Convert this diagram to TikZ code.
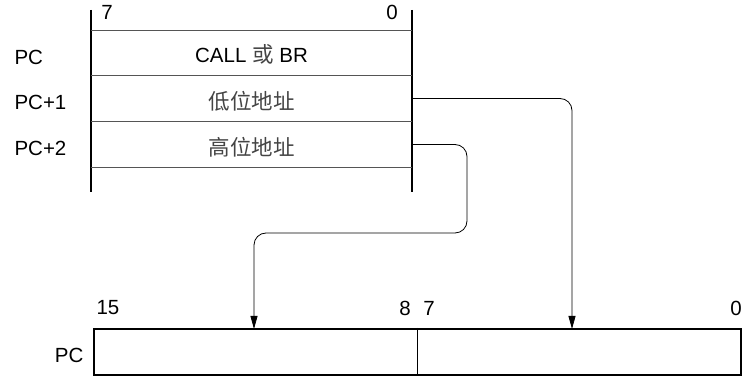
\documentclass[tikz,border=0pt]{standalone}
\usepackage{fontspec}
\setmainfont{Liberation Sans}
\newfontfamily\cjk{Noto Sans CJK SC}
\usepackage{xcolor}
\usetikzlibrary{arrows.meta}
\definecolor{rulecolor}{HTML}{555555}
\definecolor{cjkcolor}{HTML}{444444}

\begin{document}
\begin{tikzpicture}[font = \fontsize{20.5}{24}\selectfont]

        \useasboundingbox (0pt, 0pt) rectangle (742pt, -379pt);

        % Memory bytes
        \node [minimum width = 321pt, minimum height = 45pt, inner sep = 0pt, text height = 19pt, text depth = 0pt] (m0) at (251.5pt, -53.5pt) {CALL {\cjk\fontsize{21.5}{24}\selectfont\color{cjkcolor}或} BR};
        \node [minimum width = 321pt, minimum height = 46pt, inner sep = 0pt, text height = 23pt, text depth = 0pt, font = \cjk\fontsize{21.5}{24}\selectfont] (m1) at (251.5pt, -98.5pt) {\color{cjkcolor}低位地址};
        \node [minimum width = 321pt, minimum height = 46pt, inner sep = 0pt, text height = 23pt, text depth = 0pt, font = \cjk\fontsize{21.5}{24}\selectfont] (m2) at (251.5pt, -144.5pt) {\color{cjkcolor}高位地址};

        \draw [line width = 2.5pt] (m0.north west) ++(0pt, 21pt) -- ++(0pt, -182pt);
        \draw [line width = 2.5pt] (m0.north east) ++(0pt, 21pt) -- ++(0pt, -182pt);
        \draw [line width = 0.9pt, rulecolor] (m0.north west) -- (m0.north east);
        \draw [line width = 0.9pt, rulecolor] (m1.north west) -- (m1.north east);
        \draw [line width = 0.9pt, rulecolor] (m2.north west) -- (m2.north east);
        \draw [line width = 0.9pt, rulecolor] (m2.south west) -- (m2.south east);

        \node (t7) at (107pt, -12pt) {7};
        \node (t0) at (392pt, -12pt) {0};

        \node [anchor = west] (a0) at (11pt, -57pt) {PC};
        \node [anchor = west] (a1) at (11pt, -102pt) {PC+1};
        \node [anchor = west] (a2) at (11pt, -148pt) {PC+2};

        % Program counter
        \node [draw, rectangle, line width = 2pt, minimum width = 647pt, minimum height = 46pt] (pc) at (417.5pt, -352pt) {};
        \draw [line width = 0.9pt] (pc.north) -- (pc.south);
        \node [anchor = east] (pclabel) at (pc.west) [xshift = -6pt, yshift = -3pt] {PC};

        \node (b15) at (108pt, -308pt) {15};
        \node (b8) at (405pt, -308pt) {8};
        \node (b7) at (429pt, -308pt) {7};
        \node (b0) at (736pt, -308pt) {0};

        \coordinate (low) at (572pt, -329pt);
        \coordinate (high) at (254pt, -329pt);

        % Address paths
        \draw [->, > = {Triangle[length = 13pt, width = 7pt]}, line width = 0.8pt, rounded corners = 12pt] (m1.east) -| (low);
        \draw [->, > = {Triangle[length = 13pt, width = 7pt]}, line width = 0.8pt, rounded corners = 12pt] (m2.east) -| (467pt, -233pt) -| (high);

    \end{tikzpicture}
\end{document}
